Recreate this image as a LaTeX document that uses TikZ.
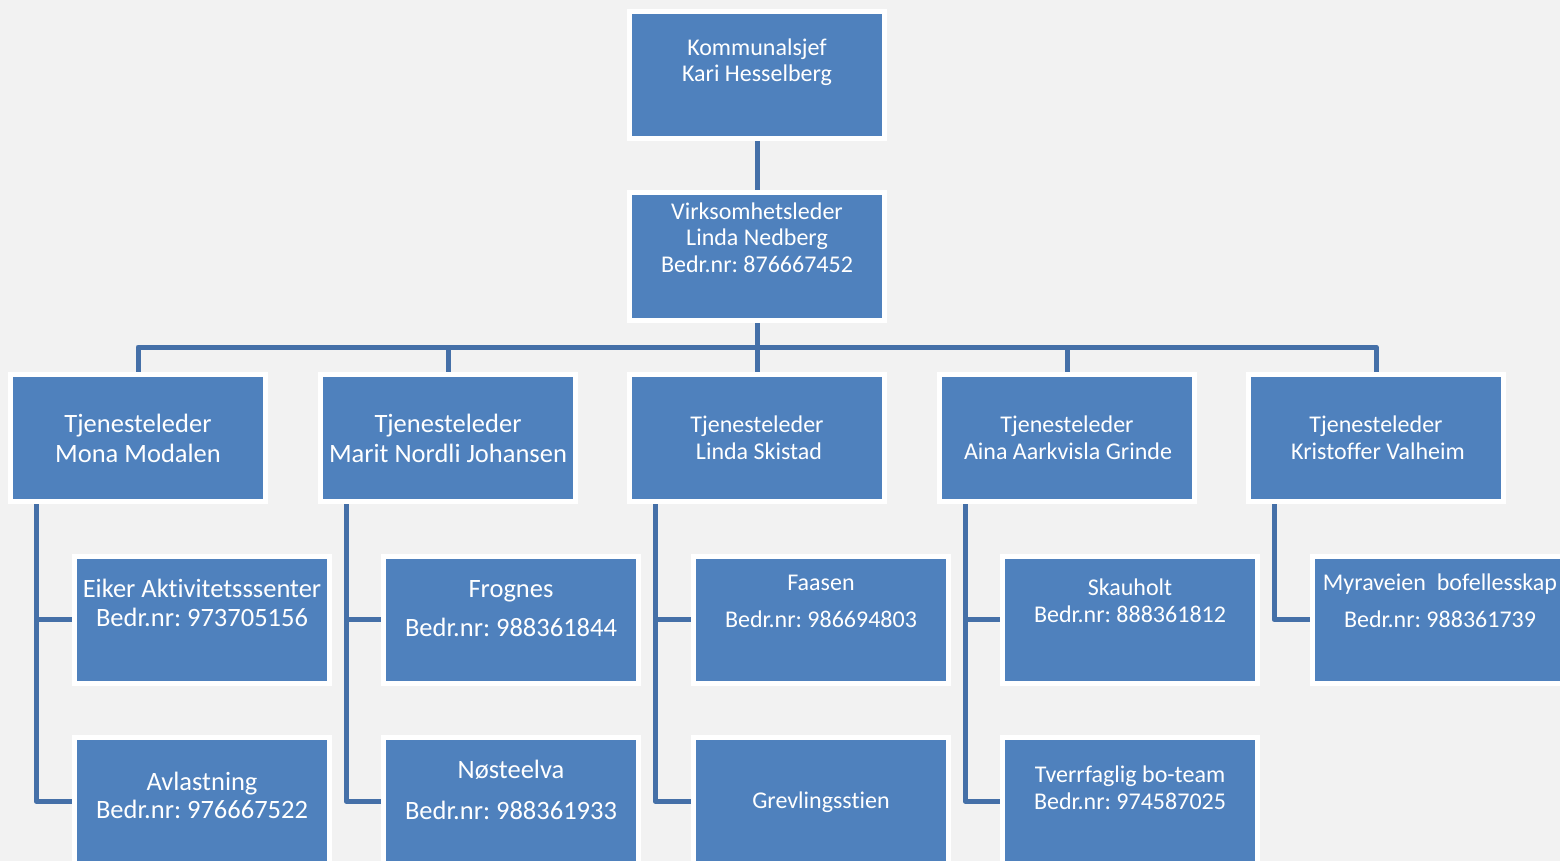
\documentclass[tikz,border=0pt]{standalone}
\usepackage{fontspec}
\setmainfont[Ligatures=NoCommon]{Carlito}
\frenchspacing
\usetikzlibrary{calc}
\definecolor{bgc}{HTML}{F2F2F2}
\definecolor{boxblue}{HTML}{4F81BD}
\definecolor{lineblue}{HTML}{4570A8}
\pgfdeclarelayer{bg}
\pgfsetlayers{bg,main}
\tikzset{
 box/.style={draw=white, line width=5pt, fill=boxblue, minimum width=255pt, minimum height=127pt, inner sep=0pt, outer sep=0pt},
 conn/.style={draw=lineblue, line width=5pt, line join=round},
 tS/.style={text=white, font=\fontsize{24}{28}\selectfont\frenchspacing, anchor=base, inner sep=0pt},
 tL/.style={text=white, font=\fontsize{26.5}{30}\selectfont\frenchspacing, anchor=base, inner sep=0pt},
}
\begin{document}
\begin{tikzpicture}[x=1pt,y=-1pt]
\begin{pgfonlayer}{bg}
\fill[bgc] (0,0) rectangle (1560,861);
\end{pgfonlayer}
\useasboundingbox (0,0) rectangle (1560,861);
% boxes
\node[box] (k) at (757,75.5) {};
\node[box] (v) at (757,256.5) {};
\node[box] (r1) at (138,438) {};
\node[box] (r2) at (448,438) {};
\node[box] (r3) at (757,438) {};
\node[box] (r4) at (1067,438) {};
\node[box] (r5) at (1376,438) {};
\node[box] (c1a) at (202,619.5) {};
\node[box] (c2a) at (511,619.5) {};
\node[box] (c3a) at (821,619.5) {};
\node[box] (c4a) at (1130,619.5) {};
\node[box] (c5a) at (1440,619.5) {};
\node[box] (c1b) at (202,801) {};
\node[box] (c2b) at (511,801) {};
\node[box] (c3b) at (821,801) {};
\node[box] (c4b) at (1130,801) {};
% connectors
\coordinate (bus) at (757,347);
\coordinate (d1) at ($(r1.south west)+(25.5,0)$);
\coordinate (d2) at ($(r2.south west)+(25.5,0)$);
\coordinate (d3) at ($(r3.south west)+(25.5,0)$);
\coordinate (d4) at ($(r4.south west)+(25.5,0)$);
\coordinate (d5) at ($(r5.south west)+(25.5,0)$);
\begin{pgfonlayer}{bg}
\draw[conn] (k.south) -- (v.north);
\draw[conn] (v.south) -- (bus);
\draw[conn] (r1.north) |- (bus) -| (r5.north);
\draw[conn] (r2.north) -- (r2.north |- bus);
\draw[conn] (r3.north) -- (bus);
\draw[conn] (r4.north) -- (r4.north |- bus);
\draw[conn] (d1) |- (c1b.west);
\draw[conn] (d1 |- c1a.west) -- (c1a.west);
\draw[conn] (d2) |- (c2b.west);
\draw[conn] (d2 |- c2a.west) -- (c2a.west);
\draw[conn] (d3) |- (c3b.west);
\draw[conn] (d3 |- c3a.west) -- (c3a.west);
\draw[conn] (d4) |- (c4b.west);
\draw[conn] (d4 |- c4a.west) -- (c4a.west);
\draw[conn] (d5) |- (c5a.west);
\end{pgfonlayer}
% texts
\node[tS] (k1) at (757,56) {Kommunalsjef};
\node[tS] (k2) at (757,82) {Kari Hesselberg};
\node[tS] (v1) at (757,219) {Virksomhetsleder};
\node[tS] (v2) at (757,245) {Linda Nedberg};
\node[tS] (v3) at (757,272) {Bedr.nr: 876667452};
\node[tL] (r1a) at (138,432) {Tjenesteleder};
\node[tL] (r1b) at (138,462) {Mona Modalen};
\node[tL] (r2a) at (448,432) {Tjenesteleder};
\node[tL] (r2b) at (448,462) {Marit Nordli Johansen};
\node[tS] (r3a) at (757,432) {Tjenesteleder};
\node[tS] (r3b) at (759,459) {Linda Skistad};
\node[tS] (r4a) at (1067,432) {Tjenesteleder};
\node[tS] (r4b) at (1068,459) {Aina Aarkvisla Grinde};
\node[tS] (r5a) at (1376,432) {Tjenesteleder};
\node[tS] (r5b) at (1378,459) {Kristoffer Valheim};
\node[tL] (c1a1) at (202,597) {Eiker Aktivitetsssenter};
\node[tL] (c1a2) at (202,626) {Bedr.nr: 973705156};
\node[tL] (c2a1) at (511,597) {Frognes};
\node[tL] (c2a2) at (511,636) {Bedr.nr: 988361844};
\node[tS] (c3a1) at (821,590) {Faasen};
\node[tS] (c3a2) at (821,627) {Bedr.nr: 986694803};
\node[tS] (c4a1) at (1130,595) {Skauholt};
\node[tS] (c4a2) at (1130,622) {Bedr.nr: 888361812};
\node[tS] (c5a1) at (1440,590) {Myraveien\ \ bofellesskap};
\node[tS] (c5a2) at (1440,627) {Bedr.nr: 988361739};
\node[tL] (c1b1) at (202,790) {Avlastning};
\node[tL] (c1b2) at (202,818) {Bedr.nr: 976667522};
\node[tL] (c2b1) at (511,778) {Nøsteelva};
\node[tL] (c2b2) at (511,819) {Bedr.nr: 988361933};
\node[tS] (c3b1) at (821,808) {Grevlingsstien};
\node[tS] (c4b1) at (1130,782) {Tverrfaglig bo-team};
\node[tS] (c4b2) at (1130,809) {Bedr.nr: 974587025};
\end{tikzpicture}
\end{document}
